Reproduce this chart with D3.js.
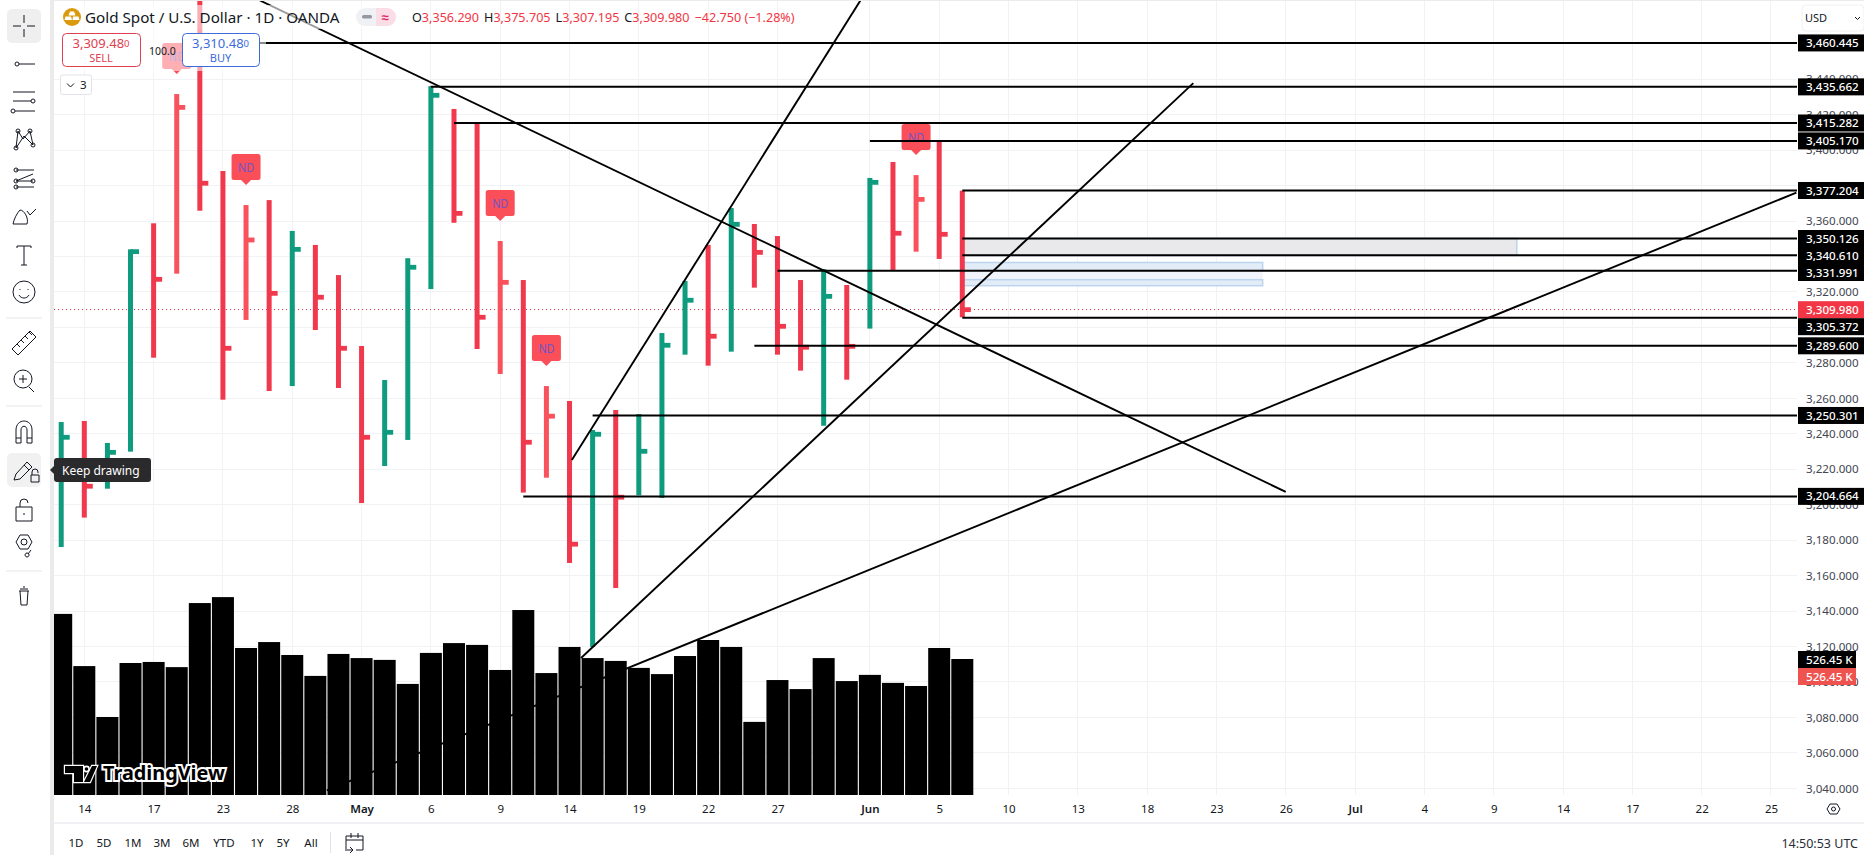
<!DOCTYPE html>
<html>
<head>
	<meta charset="utf-8">
	<title>Gold Spot / U.S. Dollar</title>
	<script src="https://d3js.org/d3.v7.min.js"></script>
	<style>
		html, body {margin:0; padding:0; background:#fff; overflow:hidden;}
		text {font-family:"Noto Sans", sans-serif;}
	</style>
</head>
<body>
	<script>
		var width=1864;
		var height=855;

		//one entry per daily bar, Apr 11 to Jun 6
		var highs = [3246.6,3247.2,3234.8,3344,3358.7,3431.6,3500,3388.2,3369,3371.8,3354.4,3346.5,3329.5,3289.5,3270.3,3339,3436.1,3423.2,3415.8,3348.7,3326.7,3266.9,3258.5,3242.1,3253.4,3251.1,3296.8,3326.2,3346.5,3367.3,3358.3,3351.5,3326.7,3332.9,3323.9,3384.3,3393.3,3385.9,3404.7,3377.1];
		var lows = [3176.1,3192.7,3209,3229.9,3282.9,3330.3,3365.8,3259.2,3304.2,3264.1,3266.9,3298.5,3265.8,3200.9,3221.8,3236.5,3321.6,3359,3287.8,3273.7,3206.8,3215.2,3167.1,3119.7,3153,3205.3,3203.8,3284.6,3278.4,3286.3,3322.4,3284.6,3275.6,3244.5,3270.5,3299.3,3332.4,3342.7,3338.6,3305.7];
		var closes = [3238,3210.4,3229.5,3342.7,3327.1,3424.1,3381.3,3288.2,3349.3,3319.2,3344,3317,3288.2,3238,3240.8,3333.9,3430.9,3364.3,3305.7,3325.4,3235.2,3249.9,3177.7,3239.7,3204.2,3230.1,3289.9,3315.3,3295,3358.1,3342.3,3300.6,3288.8,3317.5,3289.3,3381.8,3353.1,3372.2,3352.5,3309.98];
		var volumes = [701,499,302,511,515,495,743,766,569,592,542,461,546,530,523,430,550,588,581,484,716,472,573,530,519,492,468,538,600,573,283,445,410,530,441,465,434,422,569,526.45];
		var ndBars = [5,8,19,21,37];

		var priceTicks = [3040,3060,3080,3100,3120,3140,3160,3180,3200,3220,3240,3260,3280,3300,3320,3340,3360,3380,3400,3420,3440];
		var timeTickBars = [1,4,7,10,13,16,19,22,25,28,31,35,38,41,44,47,50,53,56,59,62,65,68,71,74];
		var timeTickLabels = ["14","17","23","28","May","6","9","14","19","22","27","Jun","5","10","13","18","23","26","Jul","4","9","14","17","22","25"];

		//[price, bar where the line starts]
		var levels = [[3460.445,6],[3435.662,16],[3415.282,17],[3405.17,35],[3377.204,39],[3350.126,39],[3340.61,39],[3331.991,31],[3305.372,39],[3289.6,30],[3250.301,23],[3204.664,20]];
		//[bar, price, bar, price]
		var trendLines = [[8.6,3484.4,53,3207.2],[22.1,3225.2,34.6,3484.6],[22.5,3113.5,49,3437.8],[11.5,3038.8,75.1,3376]];
		//[bar, bar, top price, bottom price, kind]
		var zones = [[39,63,3350.126,3340.61,"grey"],[39,52,3336.6,3331.991,"blue"],[39,52,3331.991,3326.9,"pale"],[39,52,3326.9,3323.5,"blue"]];

		var lastPrice = 3309.98;
		var lastVolume = "526.45 K";
		var ohlcLetters = ["O","H","L","C"];
		var ohlcValues = ["3,356.290","3,375.705","3,307.195","3,309.980"];
		var rangeButtons = ["1D","5D","1M","3M","6M","YTD","1Y","5Y","All"];
		var rangeButtonX = [76,104,133,162,191,224,257,283,311];

		var paneLeft=54, paneRight=1797, paneTop=1, paneBottom=795;
		var green="#0f9b7e", red="#f0394d", lightRed="#f9525c", grid="#f0f2f5", ink="#131722";

		var x = d3.scaleLinear().domain([0,75]).range([61.2,61.2+23.105*75]);
		var y = d3.scaleLinear().domain([3040,3360]).range([788.3,221]);
		var v = d3.scaleLinear().domain([0,526.45]).range([paneBottom,659]);

		var svg = d3.select("body").append("svg").attr("width", width).attr("height", height);
		svg.append("rect").attr("width", width).attr("height", height).attr("fill", "#fff");
		svg.append("defs").append("clipPath").attr("id", "pane").append("rect")
			.attr("x", paneLeft).attr("y", paneTop).attr("width", paneRight-paneLeft).attr("height", paneBottom-paneTop);

		//gridlines
		var gridG = svg.append("g").attr("shape-rendering", "crispEdges");
		gridG.selectAll(".h").data(priceTicks).enter().append("line")
			.attr("x1", paneLeft).attr("x2", paneRight).attr("y1", function(d){return y(d);}).attr("y2", function(d){return y(d);})
			.attr("stroke", grid);
		gridG.selectAll(".v").data(timeTickBars).enter().append("line")
			.attr("y1", paneTop).attr("y2", paneBottom).attr("x1", function(d){return x(d);}).attr("x2", function(d){return x(d);})
			.attr("stroke", grid);

		var chart = svg.append("g").attr("clip-path", "url(#pane)");

		//zones
		var zoneFill = {grey:"#e9e9ec", blue:"#e3edf7", pale:"#f1f5fb"};
		chart.selectAll(".zone").data(zones).enter().append("rect")
			.attr("x", function(d){return x(d[0]);})
			.attr("width", function(d){return x(d[1])-x(d[0]);})
			.attr("y", function(d){return y(d[2]);})
			.attr("height", function(d){return y(d[3])-y(d[2]);})
			.attr("fill", function(d){return zoneFill[d[4]];})
			.attr("stroke", function(d){return d[4]=="pale" ? "none" : "#bcd4ee";})
			.attr("stroke-width", 1.5);

		//last price line
		chart.append("line").attr("x1", paneLeft).attr("x2", paneRight).attr("y1", y(lastPrice)).attr("y2", y(lastPrice))
			.attr("stroke", "#d9304a").attr("stroke-dasharray", "1 3").attr("shape-rendering", "crispEdges");

		//volume
		chart.selectAll(".vol").data(volumes).enter().append("rect")
			.attr("x", function(d,i){return x(i)-11;})
			.attr("width", 22)
			.attr("y", function(d){return v(d);})
			.attr("height", function(d){return paneBottom-v(d);})
			.attr("fill", "#000");

		//bars: high-low stem with a close tick on the right
		function barColor(i){
			if(ndBars.indexOf(i)>=0) return lightRed;
			if(i==0) return green;
			return closes[i]>closes[i-1] ? green : red;
		}
		chart.selectAll(".stem").data(highs).enter().append("rect")
			.attr("x", function(d,i){return x(i)-2.5;})
			.attr("width", 5)
			.attr("y", function(d){return y(d);})
			.attr("height", function(d,i){return y(lows[i])-y(d);})
			.attr("fill", function(d,i){return barColor(i);});
		chart.selectAll(".tick").data(closes).enter().append("rect")
			.attr("x", function(d,i){return x(i);})
			.attr("width", 8.5)
			.attr("y", function(d){return y(d)-2.4;})
			.attr("height", 4.8)
			.attr("fill", function(d,i){return barColor(i);});

		//ND markers
		var nd = chart.selectAll(".nd").data(ndBars).enter().append("g")
			.attr("transform", function(d){return "translate("+x(d)+","+(y(highs[d])-20)+")";});
		nd.append("path")
			.attr("d", "M-12,-31H12Q14.5,-31 14.5,-28.5V-7.5Q14.5,-5 12,-5H5L0,0L-5,-5H-12Q-14.5,-5 -14.5,-7.5V-28.5Q-14.5,-31 -12,-31Z")
			.attr("fill", "#fa4f58");
		nd.append("text").attr("y", -13.5).attr("text-anchor", "middle").attr("font-size", 12.5)
			.attr("textLength", 16).attr("lengthAdjust", "spacingAndGlyphs")
			.attr("fill", "#6f55c8").text("ND");

		//drawn levels and trend lines
		chart.selectAll(".level").data(levels).enter().append("line")
			.attr("x1", function(d){return x(d[1]);}).attr("x2", paneRight)
			.attr("y1", function(d){return y(d[0]);}).attr("y2", function(d){return y(d[0]);})
			.attr("stroke", "#000").attr("stroke-width", 2);
		chart.selectAll(".trend").data(trendLines).enter().append("line")
			.attr("x1", function(d){return x(d[0]);}).attr("y1", function(d){return y(d[1]);})
			.attr("x2", function(d){return x(d[2]);}).attr("y2", function(d){return y(d[3]);})
			.attr("stroke", "#000").attr("stroke-width", 1.9);

		//watermark
		var logo = svg.append("g");
		logo.append("path")
			.attr("d", "M65,766H83V782H74V773H65Z M92,766L84,782H90L97,766Z")
			.attr("fill", "#000").attr("stroke", "#fff").attr("stroke-width", 2.4).attr("paint-order", "stroke");
		logo.append("circle").attr("cx", 86.5).attr("cy", 769).attr("r", 2.6).attr("fill", "#000").attr("stroke", "#fff").attr("stroke-width", 1.6);
		logo.append("text").attr("x", 103).attr("y", 780).attr("font-size", 20).attr("font-weight", 700)
			.attr("fill", "#000").attr("stroke", "#fff").attr("stroke-width", 4).attr("paint-order", "stroke")
			.attr("textLength", 122).attr("lengthAdjust", "spacingAndGlyphs").text("TradingView");

		//price axis
		var priceAxis = d3.axisRight(y).tickValues(priceTicks).tickSize(0).tickPadding(0).tickFormat(d3.format(",.3f"));
		var priceG = svg.append("g").attr("transform", "translate(1806,0)").call(priceAxis);
		priceG.select(".domain").remove();
		priceG.selectAll("text").attr("font-size", 11.6).attr("font-family", "\"Noto Sans\", sans-serif").attr("fill", "#434651").attr("dy", "0.32em");

		//time axis
		var timeAxis = d3.axisBottom(x).tickValues(timeTickBars).tickSize(0).tickPadding(0)
			.tickFormat(function(d,i){return timeTickLabels[i];});
		var timeG = svg.append("g").attr("transform", "translate(0,805)").call(timeAxis);
		timeG.select(".domain").remove();
		timeG.selectAll("text").attr("font-size", 11.5).attr("font-family", "\"Noto Sans\", sans-serif").attr("fill", ink).attr("dy", "0.71em")
			.attr("font-weight", function(d,i){return isNaN(+timeTickLabels[i]) ? 600 : 400;});

		//price labels, pushed apart where they would overlap
		var labels = levels.map(function(d){return {price:d[0], y:y(d[0]), fill:"#000"};});
		labels.push({price:lastPrice, y:y(lastPrice), fill:"#f23645"});
		labels.sort(function(a,b){return a.y-b.y;});
		labels.forEach(function(d,i){ if(i>0 && d.y<labels[i-1].y+17) d.y=labels[i-1].y+17; });
		var labelG = svg.selectAll(".plabel").data(labels).enter().append("g")
			.attr("transform", function(d){return "translate(1798,"+d.y+")";});
		labelG.append("rect").attr("y", -8.5).attr("width", 66).attr("height", 17).attr("fill", function(d){return d.fill;});
		labelG.append("text").attr("x", 8).attr("dy", "0.35em").attr("font-size", 11.6).attr("font-weight", 500)
			.attr("fill", "#fff").text(function(d){return d3.format(",.3f")(d.price);});

		var volLabels = [{fill:"#000", top:v(526.45)-8}, {fill:"#ef5350", top:v(526.45)+9}];
		var volG = svg.selectAll(".vlabel").data(volLabels).enter().append("g")
			.attr("transform", function(d){return "translate(1798,"+d.top+")";});
		volG.append("rect").attr("width", 58).attr("height", 17).attr("fill", function(d){return d.fill;});
		volG.append("text").attr("x", 8).attr("y", 8.5).attr("dy", "0.35em").attr("font-size", 11.6).attr("font-weight", 500)
			.attr("fill", "#fff").text(lastVolume);

		//translucent legend backing
		svg.append("rect").attr("x", paneLeft).attr("y", 5).attr("width", 350).attr("height", 24).attr("fill", "#fff").attr("opacity", 0.6);
		svg.append("rect").attr("x", paneLeft).attr("y", 29).attr("width", 212).attr("height", 42).attr("fill", "#fff").attr("opacity", 0.55);

		//header
		svg.append("circle").attr("cx", 72).attr("cy", 17).attr("r", 9).attr("fill", "#d99a0e");
		svg.append("path").attr("d", "M70,11.5H74L75.5,15.5H68.5Z M65.5,16.5H71L72,20H64.5Z M73,16.5H78.5L79.5,20H72.5Z").attr("fill", "#fff");
		svg.append("text").attr("x", 85).attr("y", 23).attr("font-size", 15.2).attr("fill", ink)
			.text("Gold Spot / U.S. Dollar · 1D · OANDA");
		svg.append("rect").attr("x", 356).attr("y", 8).attr("width", 40).attr("height", 18).attr("rx", 9).attr("fill", "#f0f1f4");
		svg.append("path").attr("d", "M376,8H387A9,9 0 0 1 387,26H376Z").attr("fill", "#fbdde6");
		svg.append("rect").attr("x", 362).attr("y", 15).attr("width", 10).attr("height", 3.5).attr("rx", 1.5).attr("fill", "#9598a1");
		svg.append("text").attr("x", 385).attr("y", 22).attr("text-anchor", "middle").attr("font-size", 13).attr("font-weight", 700).attr("fill", "#e0246a").text("≈");

		var ohlc = svg.append("text").attr("x", 412).attr("y", 22).attr("font-size", 12.6);
		ohlcLetters.forEach(function(d,i){
			ohlc.append("tspan").attr("dx", i==0 ? 0 : 5).attr("fill", ink).text(d);
			ohlc.append("tspan").attr("fill", "#f23645").text(ohlcValues[i]);
		});
		ohlc.append("tspan").attr("dx", 5).attr("fill", "#f23645").text("−42.750 (−1.28%)");

		//sell and buy buttons
		function tradeBox(left, w, col, whole, last, word){
			var g = svg.append("g");
			g.append("rect").attr("x", left+0.5).attr("y", 33.5).attr("width", w).attr("height", 33).attr("rx", 4)
				.attr("fill", "#fff").attr("stroke", col);
			var t = g.append("text").attr("x", left+w/2).attr("y", 48).attr("text-anchor", "middle").attr("font-size", 13).attr("fill", col);
			t.append("tspan").text(whole);
			t.append("tspan").attr("font-size", 9.5).attr("dy", -1).text(last);
			g.append("text").attr("x", left+w/2).attr("y", 62).attr("text-anchor", "middle").attr("font-size", 11).attr("fill", col).text(word);
		}
		tradeBox(62, 78, "#e0404f", "3,309.48", "0", "SELL");
		svg.append("text").attr("x", 149).attr("y", 55).attr("font-size", 10.5).attr("fill", ink).text("100.0");
		tradeBox(182, 77, "#3c6bdc", "3,310.48", "0", "BUY");

		svg.append("rect").attr("x", 60.5).attr("y", 75).attr("width", 31).attr("height", 19.5).attr("rx", 2).attr("fill", "#fff").attr("stroke", "#e0e3eb");
		svg.append("path").attr("d", "M67,83.5L70.5,87L74,83.5").attr("fill", "none").attr("stroke", ink);
		svg.append("text").attr("x", 80).attr("y", 89).attr("font-size", 11.5).attr("fill", ink).text("3");

		svg.append("text").attr("x", 1805).attr("y", 22).attr("font-size", 11).attr("fill", ink).text("USD");
		svg.append("rect").attr("x", 1802).attr("y", 5).attr("width", 62).attr("height", 26).attr("rx", 4).attr("fill", "none").attr("stroke", "#eef0f3");
		svg.append("path").attr("d", "M1855,17L1857.5,19.5L1860,17").attr("fill", "none").attr("stroke", ink);

		//bottom strip
		svg.append("line").attr("x1", paneLeft).attr("x2", width).attr("y1", 823).attr("y2", 823).attr("stroke", "#e0e3eb");
		svg.selectAll(".range").data(rangeButtons).enter().append("text")
			.attr("x", function(d,i){return rangeButtonX[i];}).attr("y", 847).attr("text-anchor", "middle")
			.attr("font-size", 11.5).attr("fill", ink).text(function(d){return d;});
		svg.append("line").attr("x1", 330.5).attr("x2", 330.5).attr("y1", 832).attr("y2", 853).attr("stroke", "#e0e3eb");
		svg.append("path").attr("d", "M346,849V836H363V850H356 M346,840H363 M351,833V838 M358,833V838 M345,850H353 M350,847L353,850L350,853")
			.attr("fill", "none").attr("stroke", ink);
		svg.append("text").attr("x", 1858).attr("y", 848).attr("text-anchor", "end").attr("font-size", 12.5).attr("fill", "#2a2e39").text("14:50:53 UTC");
		svg.append("path").attr("d", "M1827,809L1830,804H1837L1840,809L1837,814H1830Z").attr("fill", "none").attr("stroke", ink);
		svg.append("circle").attr("cx", 1833.5).attr("cy", 809).attr("r", 2).attr("fill", "none").attr("stroke", ink);

		//left toolbar
		svg.append("rect").attr("x", 50).attr("y", 0).attr("width", 4).attr("height", height).attr("fill", "#ebebec");
		svg.append("rect").attr("x", 50).attr("y", 0).attr("width", width-50).attr("height", 1).attr("fill", "#ebebec");
		svg.append("rect").attr("x", 7).attr("y", 9).attr("width", 34).attr("height", 34).attr("rx", 5).attr("fill", "#efefef");
		svg.append("rect").attr("x", 7).attr("y", 453).attr("width", 34).attr("height", 34).attr("rx", 5).attr("fill", "#f1f1f1");

		var icons = [
			[26,"M0,-11V-3M0,3V11M-11,0H-3M3,0H11"],
			[64,"M-9,0a2,2 0 1 0 4,0a2,2 0 1 0 -4,0M-5,0H11"],
			[102,"M-11,-10H11M-11,-1H7M-9,9H11M11,-1a2,2 0 1 0 -4,0a2,2 0 1 0 4,0M-9,9a2,2 0 1 0 -4,0a2,2 0 1 0 4,0"],
			[139,"M-8,9L-6,-8L-1,0L6,-8L9,6L0,-3L-8,9M-8,9m-2,0a2,2 0 1 0 4,0a2,2 0 1 0 -4,0M-6,-8m-2,0a2,2 0 1 0 4,0a2,2 0 1 0 -4,0M6,-8m-2,0a2,2 0 1 0 4,0a2,2 0 1 0 -4,0M9,6m-2,0a2,2 0 1 0 4,0a2,2 0 1 0 -4,0"],
			[178,"M-8,-8H10M-8,3H9M-8,9H10M-8,3L9,-4M-8,-8m-2,0a2,2 0 1 0 4,0a2,2 0 1 0 -4,0M-8,3m-2,0a2,2 0 1 0 4,0a2,2 0 1 0 -4,0M-8,9m-2,0a2,2 0 1 0 4,0a2,2 0 1 0 -4,0M9,3m-2,0a2,2 0 1 0 4,0a2,2 0 1 0 -4,0"],
			[216,"M-11,8H3C5,2 0,-6 -4,-6C-7,-3 -10,3 -11,8ZM3,-5L6,-1L12,-7"],
			[255,"M-7,-9H7V-7M-7,-9V-7M0,-9V10M-3,10H3"],
			[292,"M11,0a11,11 0 1 1 -22,0a11,11 0 1 1 22,0M-5,3C-3,7 3,7 5,3M-4,-3V-2M4,-3V-2"],
			[343,"M-12,6L6,-12L12,-6L-6,12ZM-7,1L-4,4M-3,-3L0,0M1,-7L4,-4M5,-11L8,-8"],
			[380,"M8,-1a9,9 0 1 1 -18,0a9,9 0 1 1 18,0M5,7L10,12M-5,-1H3M-1,-5V3"],
			[432,"M-8,11V-2C-8,-14 8,-14 8,-2V11H3V-2C3,-7 -3,-7 -3,-2V11ZM-8,6H-3M3,6H8"],
			[470,"M-10,10L-8,4L3,-8L8,-3L-4,9ZM0,-5L5,0M7,5h8v7h-8zM8,5V2a3,3 0 0 1 6,0V3"],
			[510,"M-8,-3H8V11H-8ZM-4,-3V-7a4,4 0 0 1 8,0M0,3V5"],
			[542,"M-8,0L-4,-7H4L8,0L4,7H-4ZM3,0a3,3 0 1 1 -6,0a3,3 0 1 1 6,0M7,8L4,12M3,11a2,2 0 1 0 0.1,0"],
			[597,"M-4,-8H4M-5,-6H5M-4,-6L-3,8H3L4,-6M-1,-10H1"]
		];
		svg.selectAll(".icon").data(icons).enter().append("path")
			.attr("transform", function(d){return "translate(24,"+d[0]+")";})
			.attr("d", function(d){return d[1];})
			.attr("fill", "none").attr("stroke", ink).attr("stroke-width", 1);
		[318,406,571].forEach(function(s){
			svg.append("line").attr("x1", 6).attr("x2", 42).attr("y1", s).attr("y2", s).attr("stroke", "#e6e6e6");
		});

		//tooltip
		svg.append("path").attr("d", "M50,470L54,466V461Q54,458 57,458H148Q151,458 151,461V479Q151,482 148,482H57Q54,482 54,479V474Z").attr("fill", "#2a2a2c");
		svg.append("text").attr("x", 62).attr("y", 474.5).attr("font-size", 12).attr("fill", "#fff").text("Keep drawing");
	</script>
</body>
</html>
